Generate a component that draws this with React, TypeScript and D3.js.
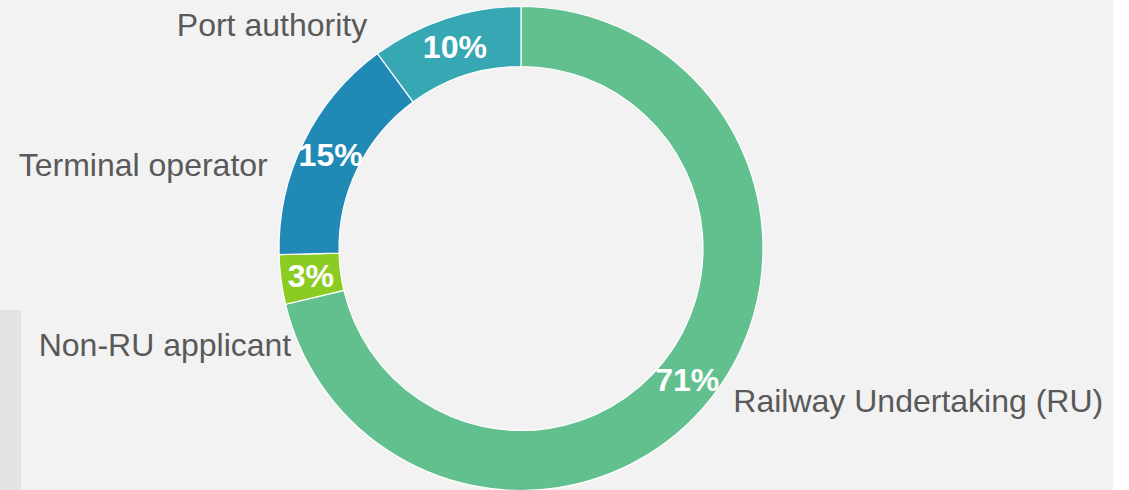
import * as d3 from "d3";
import {useEffect, useRef} from "react";

const WIDTH = 1129;
const HEIGHT = 490;

// shares (slice order: clockwise from 12 o'clock)
const categories = ["Railway Undertaking (RU)", "Non-RU applicant", "Terminal operator", "Port authority"];
const shares = [71.3, 3.3, 15.3, 10.1];
const pctLabels = ["71%", "3%", "15%", "10%"];
const colors = ["#62c08e", "#8ccc22", "#2189b5", "#36a7b3"];

// manual nudges for the category labels, like the hand placed labels of the original
const LABEL_NUDGE = [[-1, -16], [40, 61], [-9, 36], [-69, 35]];

const CX = 521;
const CY = 248.5;
const OUTER = 242;
const INNER = 182;
const FONT = "'Liberation Sans', Arial, sans-serif";

const App = () => {
    const ref = useRef(null);

    useEffect(() => {
        const svg = d3.select(ref.current);
        svg.selectAll("*").remove();

        // page background + the side panels
        svg.append("rect").attr("width", WIDTH).attr("height", HEIGHT).attr("fill", "#ffffff");
        svg.append("rect").attr("width", 1113).attr("height", HEIGHT).attr("fill", "#f2f2f2");
        svg.append("rect").attr("y", 310).attr("width", 21).attr("height", HEIGHT - 310).attr("fill", "#e3e3e3");

        const data = categories.map((c, i) => ({name: c, value: shares[i], pct: pctLabels[i], color: colors[i], nudge: LABEL_NUDGE[i]}));

        const pie = d3.pie().sort(null).value(d => d.value);
        const arcs = pie(data);

        const arc = d3.arc().innerRadius(INNER).outerRadius(OUTER);
        const labelArc = d3.arc().innerRadius(OUTER + 30).outerRadius(OUTER + 30);

        const g = svg.append("g").attr("transform", `translate(${CX},${CY})`);

        g.selectAll("path")
            .data(arcs)
            .join("path")
            .attr("d", arc)
            .attr("fill", d => d.data.color)
            .attr("stroke", "#ffffff")
            .attr("stroke-width", 1.2);

        // percentages inside the ring
        g.selectAll("text.pct")
            .data(arcs)
            .join("text")
            .attr("class", "pct")
            .attr("transform", d => `translate(${arc.centroid(d)})`)
            .attr("text-anchor", "middle")
            .attr("dy", "0.35em")
            .style("font-family", FONT)
            .style("font-size", "32px")
            .style("font-weight", "bold")
            .attr("fill", "#ffffff")
            .text(d => d.data.pct);

        // category names outside
        g.selectAll("text.cat")
            .data(arcs)
            .join("text")
            .attr("class", "cat")
            .attr("transform", d => {
                const pos = labelArc.centroid(d);
                return `translate(${pos[0] + d.data.nudge[0]},${pos[1] + d.data.nudge[1]})`;
            })
            .attr("text-anchor", d => ((d.startAngle + d.endAngle) / 2 < Math.PI ? "start" : "end"))
            .attr("dy", "0.35em")
            .style("font-family", FONT)
            .style("font-size", "32px")
            .attr("fill", "#595959")
            .text(d => d.data.name);
    }, []);

    return (
        <svg ref={ref} width={WIDTH} height={HEIGHT}
             style={{position: "absolute", left: 0, top: 0, display: "block"}}/>
    );
};

export default App;
